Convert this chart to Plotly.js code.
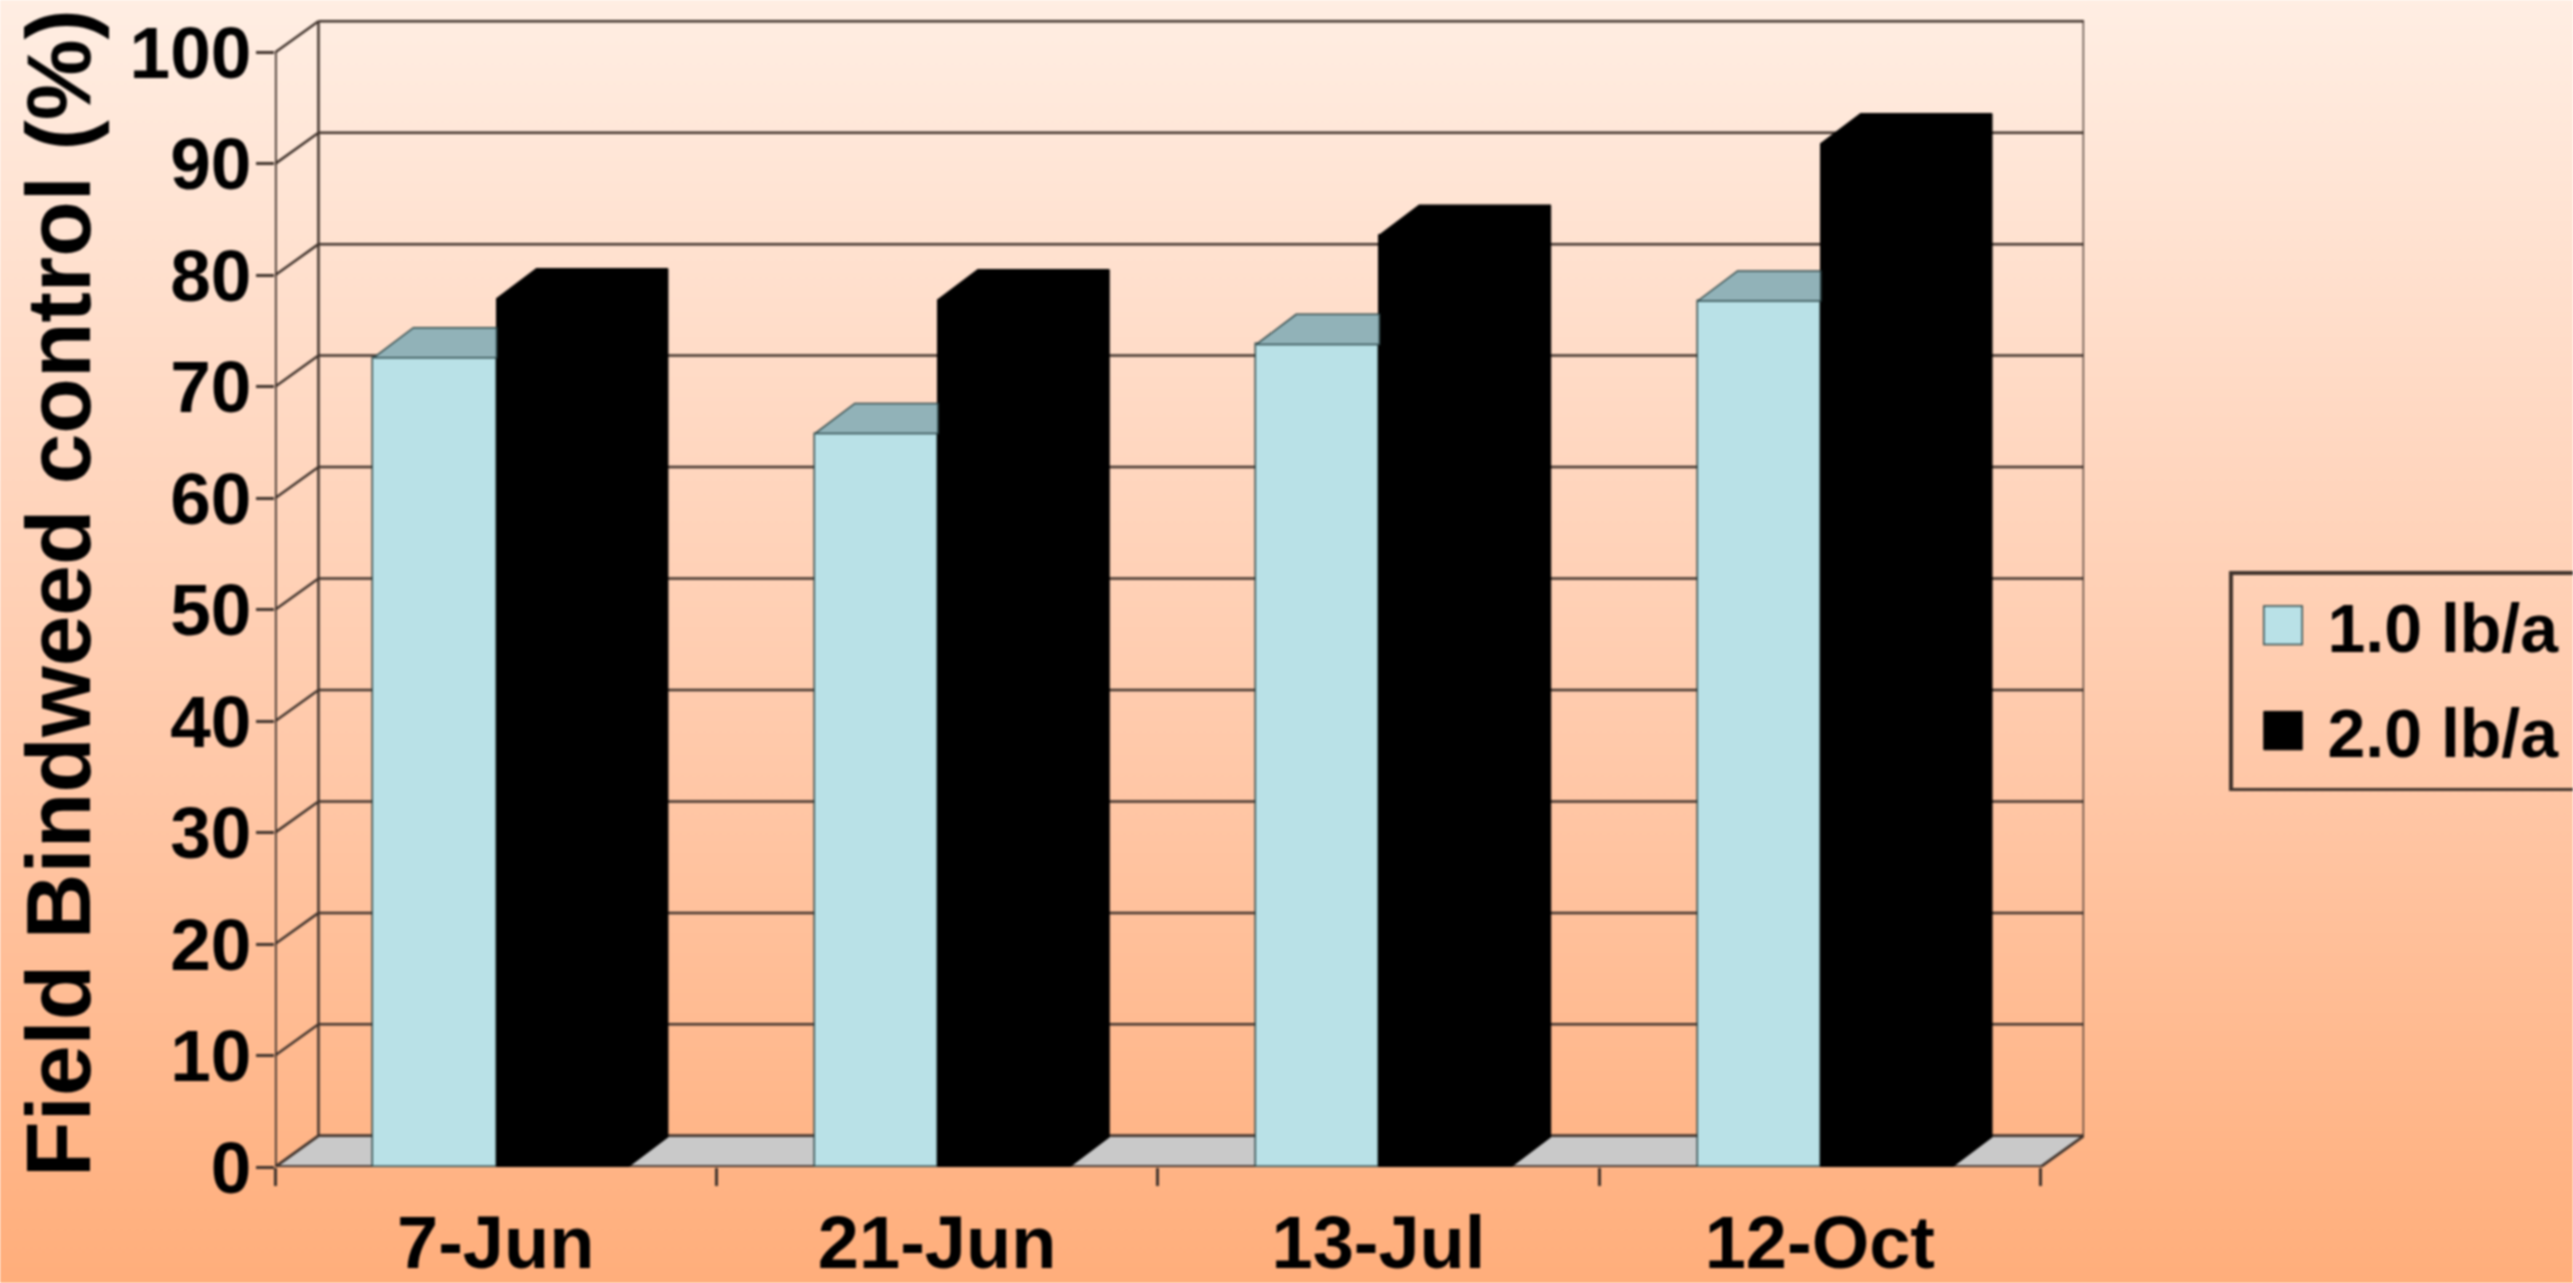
<!DOCTYPE html>
<html>
<head>
<meta charset="utf-8">
<script src="https://cdn.plot.ly/plotly-3.0.1.min.js"></script>
<style>
html,body{margin:0;padding:0;width:2573px;height:1283px;overflow:hidden;}
#chart{width:2573px;height:1283px;background:linear-gradient(180deg,#ffeee3 0%,#ffd9c3 32%,#ffc8a8 60%,#ffae7b 100%);filter:blur(1px);}
</style>
</head>
<body>
<div id="chart"></div>
<script>
const categories = ["7-Jun", "21-Jun", "13-Jul", "12-Oct"];
const seriesLow = [72.6, 65.8, 73.8, 77.7];
const seriesHigh = [77.9, 77.8, 83.6, 91.8];
const seriesNames = ["1.0 lb/a", "2.0 lb/a"];
const yTicks = [0, 10, 20, 30, 40, 50, 60, 70, 80, 90, 100];

const FONT = "Liberation Sans, Arial, sans-serif";
const INK = "#000000";
const LINE = "#40332c";
const wallDx = 0.0985, wallDy = 2.8;   // depth of the wall, in axis units
const barDx = 0.0906, barDy = 2.7;     // depth of a bar, in axis units
const lowOffset = -0.277, lowWidth = 0.279;
const highOffset = 0.002, highWidth = 0.297;
const n = categories.length;
const centers = categories.map((_, i) => i + 0.5);
const boundaries = Array.from({length: n + 1}, (_, i) => i);

function seg(x0, y0, x1, y1, w, color) {
  return {type: "line", layer: "below", xref: "x", yref: "y", x0, y0, x1, y1,
          line: {color: color || LINE, width: w || 2.5}};
}
const floorPath = `M0,0 L${n},0 L${n + wallDx},${wallDy} L${wallDx},${wallDy} Z`;
const shapes = [
  {type: "path", layer: "below", xref: "x", yref: "y", path: floorPath,
   fillcolor: "#c9c9c9", line: {color: "#3a3632", width: 2.5}}
];
yTicks.forEach(t => {
  shapes.push(seg(wallDx, t + wallDy, n + wallDx, t + wallDy, 2.5));
  shapes.push(seg(0, t, wallDx, t + wallDy, 2.5));
});
shapes.push(seg(wallDx, wallDy, wallDx, 100 + wallDy, 2.5));
shapes.push(seg(n + wallDx, wallDy, n + wallDx, 100 + wallDy, 2.5));
shapes.push(seg(0, 0, 0, 100, 3.5));
shapes.push(seg(0, 0, n, 0, 3.5));
shapes.push(seg(n, 0, n + wallDx, wallDy, 2.5));

function polyTrace(polys, fill, lineColor) {
  const xs = [], ys = [];
  polys.forEach(p => { p.forEach(q => { xs.push(q[0]); ys.push(q[1]); }); xs.push(null); ys.push(null); });
  return {type: "scatter", mode: "lines", x: xs, y: ys, fill: "toself", fillcolor: fill,
          line: {color: lineColor, width: 1.5}, showlegend: false, hoverinfo: "skip", cliponaxis: false};
}
const lowTops = seriesLow.map((v, i) => {
  const x0 = centers[i] + lowOffset, x1 = centers[i] + highOffset;
  return [[x0, v], [x1, v], [x1, v + barDy], [x0 + barDx, v + barDy], [x0, v]];
});
const highTops = seriesHigh.map((v, i) => {
  const x0 = centers[i] + highOffset, x1 = x0 + highWidth;
  return [[x0, v], [x1, v], [x1 + barDx, v + barDy], [x0 + barDx, v + barDy], [x0, v]];
});
const highSides = seriesHigh.map((v, i) => {
  const x1 = centers[i] + highOffset + highWidth;
  return [[x1, 0], [x1 + barDx, barDy], [x1 + barDx, v + barDy], [x1, v], [x1, 0]];
});

const traces = [
  {type: "bar", name: seriesNames[0], legendgroup: "a", x: centers, y: seriesLow, offset: lowOffset, width: lowWidth,
   marker: {color: "#b9e1e7", line: {color: "#2f4a4c", width: 1.5}}, hoverinfo: "y"},
  {type: "bar", name: seriesNames[1], legendgroup: "b", x: centers, y: seriesHigh, offset: highOffset, width: highWidth,
   marker: {color: "#000000", line: {color: "#000000", width: 1}}, hoverinfo: "y"},
  polyTrace(lowTops, "#91b2b8", "#2f4a4c"),
  polyTrace(highTops, "#000000", "#000000"),
  polyTrace(highSides, "#000000", "#000000")
];

const layout = {
  width: 2573, height: 1283,
  paper_bgcolor: "rgba(0,0,0,0)", plot_bgcolor: "rgba(0,0,0,0)",
  margin: {l: 275, r: 489, t: 18.5, b: 116, autoexpand: false},
  barmode: "overlay",
  bargap: 0,
  font: {family: FONT, color: INK},
  shapes,
  xaxis: {
    type: "linear", range: [0, n + wallDx], showgrid: false, zeroline: false, showline: false,
    tickmode: "array", tickvals: centers, ticktext: categories, ticks: "", ticklabelstandoff: 26,
    tickfont: {family: FONT, size: 74, weight: 700, color: INK},
    minor: {tickmode: "array", tickvals: boundaries, ticks: "outside", ticklen: 18, tickwidth: 2.5, tickcolor: LINE, showgrid: false}
  },
  yaxis: {
    range: [0, 103], showgrid: false, zeroline: false, showline: false,
    tickmode: "array", tickvals: yTicks, ticks: "outside", ticklen: 18, tickwidth: 2.5, tickcolor: LINE,
    ticklabelstandoff: -10,
    tickfont: {family: FONT, size: 73, weight: 700, color: INK},
    title: {text: "Field Bindweed control (%)", standoff: 8, font: {family: FONT, size: 91, weight: 700, color: INK}}
  },
  legend: {
    xref: "container", yref: "container", x: 2229 / 2573, y: 1 - 571 / 1283, xanchor: "left", yanchor: "top",
    bgcolor: "rgba(0,0,0,0)", bordercolor: LINE, borderwidth: 3.5, traceorder: "grouped", tracegroupgap: 14,
    font: {family: FONT, size: 68, weight: 700, color: INK}, itemwidth: 85, itemclick: false, itemdoubleclick: false
  }
};

Plotly.newPlot("chart", traces, layout, {displayModeBar: false, responsive: false}).then(gd => {
  gd.querySelectorAll(".legend .legendpoints path").forEach(p => {
    const t = p.getAttribute("transform") || "";
    p.setAttribute("transform", "translate(3,0) " + t + " scale(3.2)");
    p.style.vectorEffect = "non-scaling-stroke";
  });
  // the reference's legend frame runs off the right edge of the picture
  const bg = gd.querySelector(".legend rect.bg");
  if (bg) {
    bg.setAttribute("width", 420);
    bg.setAttribute("height", parseFloat(bg.getAttribute("height")) + 6);
  }
});
</script>
</body>
</html>
